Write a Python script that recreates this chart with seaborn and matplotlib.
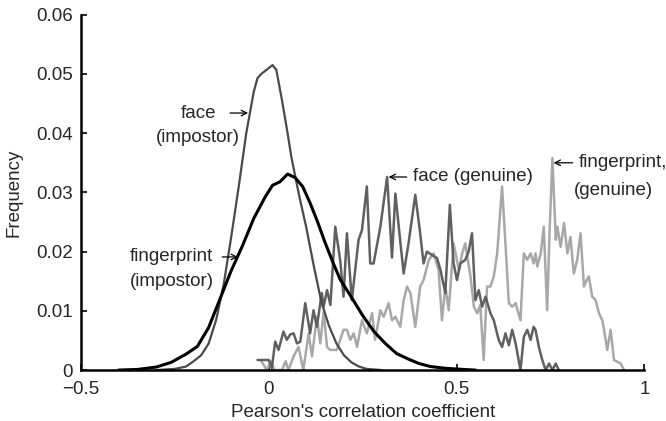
import matplotlib
matplotlib.use("Agg")
import matplotlib.pyplot as plt
import seaborn as sns
import pandas as pd

# Tick positions and labels
x_ticks = [-0.5, 0, 0.5, 1]
x_tick_labels = ["\u22120.5", "0", "0.5", "1"]
y_ticks = [0, 0.01, 0.02, 0.03, 0.04, 0.05, 0.06]
y_tick_labels = ["0", "0.01", "0.02", "0.03", "0.04", "0.05", "0.06"]

# Face, impostor comparisons
face_imp_x = [-0.30, -0.25, -0.22, -0.20, -0.18, -0.16, -0.14, -0.12, -0.10, -0.08,
              -0.06, -0.04, -0.03, -0.02, 0.00, 0.01, 0.02, 0.035, 0.05, 0.06, 0.08,
              0.10, 0.12, 0.14, 0.16, 0.18, 0.20, 0.22, 0.24, 0.26, 0.30]
face_imp_y = [0.0, 0.0002, 0.0006, 0.0015, 0.0025, 0.0045, 0.0085, 0.0145, 0.0225, 0.031,
              0.040, 0.0470, 0.0493, 0.0500, 0.0510, 0.0515, 0.0507, 0.0456, 0.0400, 0.0360, 0.0297,
              0.0240, 0.0175, 0.0115, 0.0075, 0.0045, 0.0025, 0.0013, 0.0006, 0.0002, 0.0]

# Fingerprint, impostor comparisons
fp_imp_x = [-0.40, -0.35, -0.30, -0.26, -0.22, -0.19, -0.16, -0.13, -0.10, -0.07,
            -0.04, -0.01, 0.01, 0.03, 0.05, 0.07, 0.09, 0.11, 0.13, 0.15,
            0.17, 0.19, 0.22, 0.25, 0.28, 0.31, 0.34, 0.37, 0.40, 0.43, 0.47, 0.52, 0.55]
fp_imp_y = [0.0, 0.0001, 0.0005, 0.0013, 0.0027, 0.0040, 0.0072, 0.0120, 0.0168, 0.0210,
            0.0256, 0.0292, 0.0312, 0.0318, 0.0331, 0.0325, 0.0310, 0.0282, 0.0250, 0.0215,
            0.0183, 0.0153, 0.0123, 0.0092, 0.0065, 0.0045, 0.0028, 0.0019, 0.0011, 0.0006, 0.0003, 0.0001, 0.0]

# Face, genuine comparisons
face_gen_x = [-0.03, 0.00, 0.008, 0.017, 0.026, 0.039, 0.048, 0.057, 0.066, 0.075,
              0.084, 0.097, 0.110, 0.119, 0.128, 0.141, 0.146, 0.155, 0.164, 0.177,
              0.190, 0.199, 0.208, 0.221, 0.239, 0.248, 0.261, 0.270, 0.279, 0.297,
              0.315, 0.328, 0.337, 0.346, 0.359, 0.372, 0.390, 0.403, 0.412, 0.421,
              0.435, 0.448, 0.457, 0.470, 0.482, 0.492, 0.501, 0.510, 0.523, 0.532,
              0.541, 0.550, 0.559, 0.568, 0.577, 0.590, 0.599, 0.612, 0.621, 0.630,
              0.639, 0.648, 0.657, 0.670, 0.679, 0.688, 0.697, 0.705, 0.710, 0.719,
              0.728, 0.737, 0.746, 0.755, 0.764, 0.772]
face_gen_y = [0.0017, 0.0017, 0.0003, 0.0048, 0.0034, 0.0065, 0.0051, 0.0060, 0.0062, 0.0045,
              0.0048, 0.0113, 0.0062, 0.0101, 0.0073, 0.0130, 0.0107, 0.0135, 0.0110, 0.0242,
              0.0186, 0.0124, 0.0231, 0.0118, 0.0220, 0.0236, 0.0310, 0.0180, 0.0180, 0.0242,
              0.0326, 0.0190, 0.0298, 0.0242, 0.0163, 0.0214, 0.0296, 0.0231, 0.0180, 0.0200,
              0.0194, 0.0189, 0.0169, 0.0130, 0.0279, 0.0180, 0.0152, 0.0180, 0.0186, 0.0200,
              0.0231, 0.0118, 0.0135, 0.0107, 0.0124, 0.0096, 0.0084, 0.0051, 0.0039, 0.0062,
              0.0042, 0.0068, 0.0045, 0.0, 0.0056, 0.0068, 0.0051, 0.0073, 0.0068, 0.0039,
              0.0017, 0.0, 0.0011, 0.0, 0.0011, 0.0]

# Fingerprint, genuine comparisons
fp_gen_x = [-0.02, -0.005, 0.005, 0.015, 0.035, 0.045, 0.052, 0.066, 0.079, 0.092,
            0.106, 0.115, 0.128, 0.137, 0.146, 0.155, 0.163, 0.181, 0.199, 0.208,
            0.217, 0.226, 0.235, 0.248, 0.261, 0.275, 0.283, 0.297, 0.306, 0.319,
            0.328, 0.337, 0.350, 0.359, 0.368, 0.377, 0.390, 0.403, 0.412, 0.426,
            0.439, 0.452, 0.461, 0.470, 0.479, 0.492, 0.506, 0.515, 0.523, 0.537,
            0.546, 0.555, 0.563, 0.572, 0.581, 0.590, 0.599, 0.608, 0.621, 0.630,
            0.639, 0.648, 0.657, 0.670, 0.679, 0.688, 0.697, 0.705, 0.710, 0.715,
            0.724, 0.732, 0.741, 0.748, 0.755, 0.764, 0.768, 0.777, 0.786, 0.795,
            0.803, 0.812, 0.821, 0.830, 0.839, 0.845, 0.852, 0.861, 0.870, 0.879,
            0.888, 0.897, 0.901, 0.910, 0.919, 0.937, 0.946]
fp_gen_y = [0.0015, 0.0, 0.0015, 0.0, 0.0, 0.0015, 0.0, 0.0023, 0.0039, 0.0,
            0.0062, 0.0023, 0.0090, 0.0045, 0.0098, 0.0039, 0.0034, 0.0034, 0.0068, 0.0068,
            0.0051, 0.0062, 0.0039, 0.0084, 0.0062, 0.0096, 0.0051, 0.0101, 0.0090, 0.0113,
            0.0084, 0.0090, 0.0073, 0.0118, 0.0141, 0.0130, 0.0073, 0.0141, 0.0152, 0.0186,
            0.0197, 0.0169, 0.0084, 0.0141, 0.0101, 0.0214, 0.0169, 0.0197, 0.0214, 0.0158,
            0.0107, 0.0096, 0.0110, 0.0017, 0.0141, 0.0141, 0.0158, 0.0197, 0.0310, 0.0214,
            0.0113, 0.0107, 0.0113, 0.0084, 0.0197, 0.0186, 0.0197, 0.0180, 0.0197, 0.0175,
            0.0197, 0.0242, 0.0101, 0.0242, 0.0358, 0.0220, 0.0242, 0.0208, 0.0248, 0.0197,
            0.0225, 0.0163, 0.0186, 0.0231, 0.0141, 0.0150, 0.0158, 0.0124, 0.0118, 0.0096,
            0.0084, 0.0050, 0.0034, 0.0068, 0.0017, 0.0011, 0.0]

sns.set_style("ticks")
plt.rcParams["font.family"] = ["Liberation Sans", "DejaVu Sans"]
FS = 13.5

fig = plt.figure(figsize=(6.66, 4.21), dpi=100)
ax = fig.add_axes([0.1216, 0.121, 0.846, 0.844])

series = [
    (fp_gen_x, fp_gen_y, "#a8a8a8", 1.8),
    (face_gen_x, face_gen_y, "#606060", 1.8),
    (face_imp_x, face_imp_y, "#4a4a4a", 1.6),
    (fp_imp_x, fp_imp_y, "#000000", 2.2),
]
for xs, ys, col, lw in series:
    df = pd.DataFrame({"r": xs, "freq": ys})
    sns.lineplot(data=df, x="r", y="freq", ax=ax, color=col, linewidth=lw,
                 sort=False, estimator=None)

ax.set_xlim(-0.5, 1.0)
ax.set_ylim(0, 0.06)
ax.set_xticks(x_ticks)
ax.set_xticklabels(x_tick_labels, fontsize=FS)
ax.set_yticks(y_ticks)
ax.set_yticklabels(y_tick_labels, fontsize=FS)
ax.tick_params(direction="in", length=4, width=1.2, color="black")
ax.tick_params(axis="x", pad=8)
ax.tick_params(axis="y", pad=6)
ax.set_xlabel("Pearson's correlation coefficient", fontsize=FS, labelpad=4)
ax.set_ylabel("Frequency", fontsize=FS, labelpad=10)
for side in ("top", "right"):
    ax.spines[side].set_visible(False)
for side in ("left", "bottom"):
    ax.spines[side].set_linewidth(1.8)
    ax.spines[side].set_color("black")

arrow = dict(arrowstyle="->", color="black", lw=0.9, shrinkA=0, shrinkB=0)

# Impostor labels
ax.text(-0.186, 0.0434, "face", ha="center", va="center", fontsize=FS)
ax.text(-0.188, 0.0392, "(impostor)", ha="center", va="center", fontsize=FS)
ax.annotate("", xy=(-0.055, 0.0434), xytext=(-0.103, 0.0434), arrowprops=arrow)

ax.text(-0.259, 0.0191, "fingerprint", ha="center", va="center", fontsize=FS)
ax.text(-0.259, 0.0149, "(impostor)", ha="center", va="center", fontsize=FS)
ax.annotate("", xy=(-0.082, 0.0191), xytext=(-0.124, 0.0191), arrowprops=arrow)

# Genuine labels
ax.annotate("", xy=(0.319, 0.0326), xytext=(0.367, 0.0326), arrowprops=arrow)
ax.text(0.383, 0.0326, "face (genuine)", ha="left", va="center", fontsize=FS)

ax.annotate("", xy=(0.758, 0.035), xytext=(0.809, 0.035), arrowprops=arrow)
ax.text(0.825, 0.035, "fingerprint,", ha="left", va="center", fontsize=FS)
ax.text(0.811, 0.0304, "(genuine)", ha="left", va="center", fontsize=FS)

fig.savefig("out.png", dpi=100, facecolor="white")
